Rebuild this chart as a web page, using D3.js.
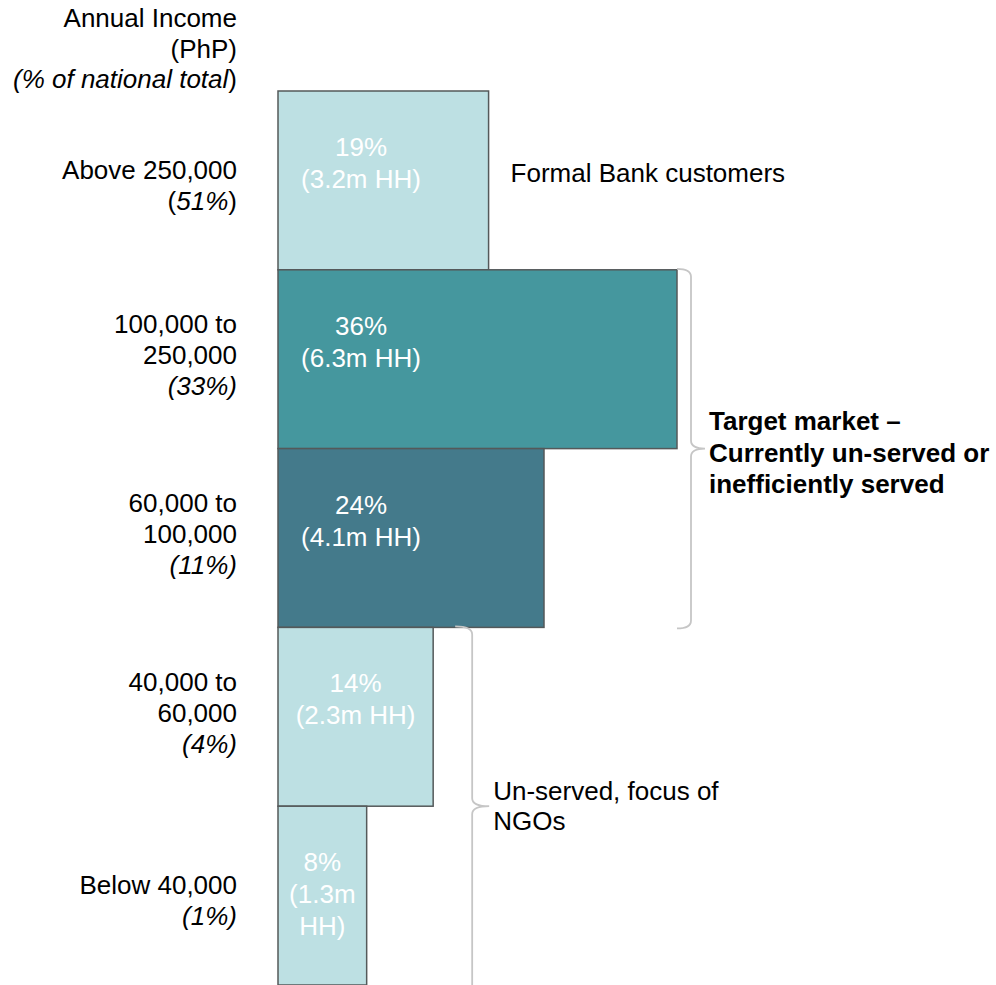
<!DOCTYPE html>
<html>
<head>
<meta charset="utf-8">
<script src="https://cdn.jsdelivr.net/npm/d3@7"></script>
<style>
  body { margin: 0; background: #fff; }
  text { font-family: "Liberation Sans", Arial, sans-serif; }
</style>
</head>
<body>
<div id="chart"></div>
<script>
// income bands, top to bottom
const bands = ['Above 250,000', '100,000 to 250,000', '60,000 to 100,000', '40,000 to 60,000', 'Below 40,000'];
// left labels split into lines, last line is the share of national income
const bandLines = [['Above 250,000'], ['100,000 to', '250,000'], ['60,000 to', '100,000'], ['40,000 to', '60,000'], ['Below 40,000']];
const incomeShare = ['51%', '33%', '11%', '4%', '1%'];
// share of households
const hhShare = [19, 36, 24, 14, 8];
const hhCount = ['3.2m', '6.3m', '4.1m', '2.3m', '1.3m'];
const bandColors = ['#bde0e3', '#45979e', '#447a8b', '#bde0e3', '#bde0e3'];

const width = 996;
const height = 985;
const fs = 26;
const lh = 31;

const svg = d3.select('#chart')
    .append('svg')
    .attr('width', width)
    .attr('height', height);

// band scale for the rows, linear scale for bar widths
const y = d3.scaleBand()
    .domain(bands)
    .range([91, 985])
    .padding(0);

const x = d3.scaleLinear()
    .domain([0, 36])
    .range([278, 677]);

// bars
svg.append('g')
    .selectAll('rect')
    .data(bands)
    .join('rect')
    .attr('x', x(0))
    .attr('y', d => y(d))
    .attr('width', (d, i) => x(hhShare[i]) - x(0))
    .attr('height', y.bandwidth())
    .attr('fill', (d, i) => bandColors[i])
    .attr('stroke', '#54595a')
    .attr('stroke-width', 1.5);

// labels inside the bars
bands.forEach((b, i) => {
    const bw = x(hhShare[i]) - x(0);
    const cx = Math.min(x(0) + bw / 2, 361);
    let lines = [hhShare[i] + '%', '(' + hhCount[i] + ' HH)'];
    // narrow bar, wrap the household count
    if (bw < 130) lines = [hhShare[i] + '%', '(' + hhCount[i], 'HH)'];
    const t = svg.append('text')
        .attr('text-anchor', 'middle')
        .attr('font-size', fs)
        .attr('fill', '#fff');
    lines.forEach((l, j) => {
        t.append('tspan')
            .attr('x', cx)
            .attr('y', y(b) + 65 + j * (lh + 1))
            .text(l);
    });
});

// left labels, right aligned
const lx = 237;
bands.forEach((b, i) => {
    const n = bandLines[i].length + 1;
    const cy = y(b) + y.bandwidth() / 2;
    const y0 = cy - (n - 1) * lh / 2 + (n === 2 ? 14 : 5);
    const t = svg.append('text')
        .attr('text-anchor', 'end')
        .attr('font-size', fs)
        .attr('fill', '#000');
    bandLines[i].forEach((l, j) => {
        t.append('tspan').attr('x', lx).attr('y', y0 + j * lh).text(l);
    });
    const last = t.append('tspan').attr('x', lx).attr('y', y0 + (n - 1) * lh);
    if (i === 0) {
        last.text('(');
        t.append('tspan').attr('font-style', 'italic').text(incomeShare[i]);
        t.append('tspan').text(')');
    } else {
        last.attr('font-style', 'italic').text('(' + incomeShare[i] + ')');
    }
});

// header
const head = svg.append('text')
    .attr('text-anchor', 'end')
    .attr('font-size', fs)
    .attr('fill', '#000');
head.append('tspan').attr('x', lx).attr('y', 27).text('Annual Income');
head.append('tspan').attr('x', lx).attr('y', 58).text('(PhP)');
head.append('tspan').attr('x', lx).attr('y', 88).attr('font-style', 'italic').text('(% of national total');
head.append('tspan').text(')');

// curly brace pointing right, tip at ym
function brace(bx, y0, ym, y1, w, tip) {
    const r = 8;
    return `M${bx - w},${y0} Q${bx},${y0} ${bx},${y0 + r} L${bx},${ym - r} Q${bx},${ym} ${bx + tip},${ym}`
        + ` Q${bx},${ym} ${bx},${ym + r} L${bx},${y1 - r} Q${bx},${y1} ${bx - w},${y1}`;
}

const b1x = x(36) + 14;
const b1y0 = y(bands[1]) - 1;
const b1y1 = y(bands[2]) + y.bandwidth() + 1;
svg.append('path')
    .attr('d', brace(b1x, b1y0, (b1y0 + b1y1) / 2, b1y1, 14, 14))
    .attr('fill', 'none')
    .attr('stroke', '#c6c6c6')
    .attr('stroke-width', 1.8);

const b2x = x(14) + 39;
const b2y0 = y(bands[3]) - 1;
const b2ym = y(bands[4]);
svg.append('path')
    .attr('d', brace(b2x, b2y0, b2ym, 2 * b2ym - b2y0 + 20, 17, 17))
    .attr('fill', 'none')
    .attr('stroke', '#c6c6c6')
    .attr('stroke-width', 1.8);

// annotations
svg.append('text')
    .attr('x', x(19) + 22)
    .attr('y', 182)
    .attr('font-size', fs)
    .text('Formal Bank customers');

const tgt = svg.append('text')
    .attr('font-size', fs)
    .attr('font-weight', 'bold');
['Target market –', 'Currently un-served or', 'inefficiently served'].forEach((l, j) => {
    tgt.append('tspan').attr('x', b1x + 18).attr('y', 430 + j * 31.5).text(l);
});

const ngo = svg.append('text')
    .attr('font-size', fs);
['Un-served, focus of', 'NGOs'].forEach((l, j) => {
    ngo.append('tspan').attr('x', b2x + 21).attr('y', 800 + j * 30).text(l);
});
</script>
</body>
</html>
